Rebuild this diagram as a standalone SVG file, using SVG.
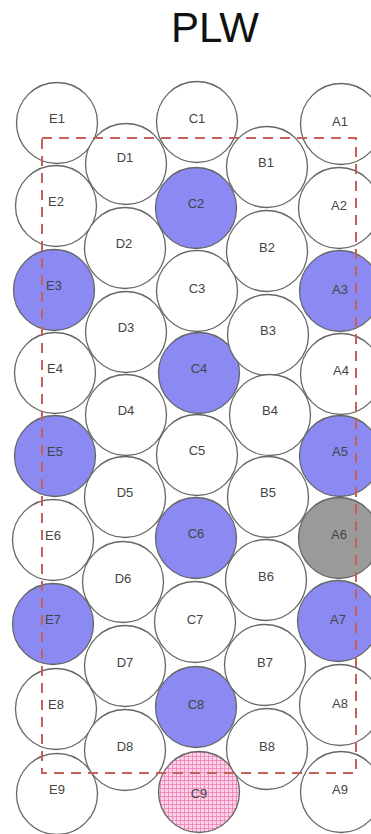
<svg xmlns="http://www.w3.org/2000/svg" width="371" height="834" viewBox="0 0 371 834">
<defs>
<pattern id="grid" width="4" height="4" patternUnits="userSpaceOnUse">
<rect width="4" height="4" fill="#fbd3e6"/>
<path d="M0 0.5H4M0.5 0V4" stroke="#f07fb8" stroke-width="0.8" fill="none"/>
</pattern>
</defs>
<style>
.c{fill:#ffffff;stroke:#666666;stroke-width:1.3}
.b{fill:#8a8af2}
.g{fill:#9a9a9a}
.p{fill:url(#grid)}
.t{font-family:"Liberation Sans",Arial,sans-serif;font-size:13px;fill:#444444;text-anchor:middle}
.title{font-family:"Liberation Sans",Arial,sans-serif;font-size:42px;fill:#111111;text-anchor:middle}
.frame{fill:none;stroke:#c8605a;stroke-width:2;stroke-dasharray:10 7}
</style>
<rect width="371" height="834" fill="#ffffff"/>
<text class="title" x="215" y="42">PLW</text>
<g id="E1"><circle class="c" cx="57" cy="123" r="40.5"/><text class="t" x="57" y="123">E1</text></g>
<g id="E2"><circle class="c" cx="56" cy="206" r="40.5"/><text class="t" x="56" y="206">E2</text></g>
<g id="E3"><circle class="c b" cx="54" cy="290" r="40.5"/><text class="t" x="54" y="290">E3</text></g>
<g id="E4"><circle class="c" cx="55" cy="373" r="40.5"/><text class="t" x="55" y="373">E4</text></g>
<g id="E5"><circle class="c b" cx="55" cy="456" r="40.5"/><text class="t" x="55" y="456">E5</text></g>
<g id="E6"><circle class="c" cx="53" cy="540" r="40.5"/><text class="t" x="53" y="540">E6</text></g>
<g id="E7"><circle class="c b" cx="53" cy="624" r="40.5"/><text class="t" x="53" y="624">E7</text></g>
<g id="E8"><circle class="c" cx="56" cy="709" r="40.5"/><text class="t" x="56" y="709">E8</text></g>
<g id="E9"><circle class="c" cx="57" cy="794" r="40.5"/><text class="t" x="57" y="794">E9</text></g>
<g id="D1"><circle class="c" cx="126" cy="164" r="40.5"/><text class="t" x="125" y="162">D1</text></g>
<g id="D2"><circle class="c" cx="125" cy="248" r="40.5"/><text class="t" x="124" y="248">D2</text></g>
<g id="D3"><circle class="c" cx="126" cy="332" r="40.5"/><text class="t" x="126" y="332">D3</text></g>
<g id="D4"><circle class="c" cx="126" cy="415" r="40.5"/><text class="t" x="126" y="415">D4</text></g>
<g id="D5"><circle class="c" cx="125" cy="497" r="40.5"/><text class="t" x="125" y="497">D5</text></g>
<g id="D6"><circle class="c" cx="123" cy="582" r="40.5"/><text class="t" x="123" y="583">D6</text></g>
<g id="D7"><circle class="c" cx="125" cy="666" r="40.5"/><text class="t" x="125" y="667">D7</text></g>
<g id="D8"><circle class="c" cx="125" cy="750" r="40.5"/><text class="t" x="125" y="751">D8</text></g>
<g id="C1"><circle class="c" cx="197" cy="122" r="40.5"/><text class="t" x="197" y="123">C1</text></g>
<g id="C2"><circle class="c b" cx="196" cy="208" r="40.5"/><text class="t" x="196" y="208">C2</text></g>
<g id="C3"><circle class="c" cx="197" cy="291" r="40.5"/><text class="t" x="197" y="293">C3</text></g>
<g id="C4"><circle class="c b" cx="199" cy="373" r="40.5"/><text class="t" x="199" y="373">C4</text></g>
<g id="C5"><circle class="c" cx="197" cy="455" r="40.5"/><text class="t" x="197" y="455">C5</text></g>
<g id="C6"><circle class="c b" cx="196" cy="538" r="40.5"/><text class="t" x="196" y="538">C6</text></g>
<g id="C7"><circle class="c" cx="195" cy="622" r="40.5"/><text class="t" x="195" y="624">C7</text></g>
<g id="C8"><circle class="c b" cx="196" cy="707" r="40.5"/><text class="t" x="196" y="709">C8</text></g>
<g id="C9"><circle class="c p" cx="199" cy="792" r="40.5"/><text class="t" x="199" y="798">C9</text></g>
<g id="B1"><circle class="c" cx="267" cy="167" r="40.5"/><text class="t" x="266" y="167">B1</text></g>
<g id="B2"><circle class="c" cx="267" cy="251" r="40.5"/><text class="t" x="267" y="252">B2</text></g>
<g id="B3"><circle class="c" cx="268" cy="335" r="40.5"/><text class="t" x="268" y="335">B3</text></g>
<g id="B4"><circle class="c" cx="270" cy="415" r="40.5"/><text class="t" x="270" y="415">B4</text></g>
<g id="B5"><circle class="c" cx="268" cy="497" r="40.5"/><text class="t" x="268" y="497">B5</text></g>
<g id="B6"><circle class="c" cx="266" cy="580" r="40.5"/><text class="t" x="266" y="581">B6</text></g>
<g id="B7"><circle class="c" cx="265" cy="665" r="40.5"/><text class="t" x="265" y="667">B7</text></g>
<g id="B8"><circle class="c" cx="267" cy="749" r="40.5"/><text class="t" x="267" y="751">B8</text></g>
<g id="A1"><circle class="c" cx="341" cy="124" r="40.5"/><text class="t" x="340" y="126">A1</text></g>
<g id="A2"><circle class="c" cx="339" cy="208" r="40.5"/><text class="t" x="339" y="210">A2</text></g>
<g id="A3"><circle class="c b" cx="340" cy="291" r="40.5"/><text class="t" x="340" y="294">A3</text></g>
<g id="A4"><circle class="c" cx="341" cy="374" r="40.5"/><text class="t" x="341" y="375">A4</text></g>
<g id="A5"><circle class="c b" cx="340" cy="456" r="40.5"/><text class="t" x="340" y="456">A5</text></g>
<g id="A6"><circle class="c g" cx="339" cy="538" r="40.5"/><text class="t" x="339" y="539">A6</text></g>
<g id="A7"><circle class="c b" cx="338" cy="621" r="40.5"/><text class="t" x="338" y="624">A7</text></g>
<g id="A8"><circle class="c" cx="340" cy="705" r="40.5"/><text class="t" x="340" y="708">A8</text></g>
<g id="A9"><circle class="c" cx="341" cy="792" r="40.5"/><text class="t" x="340" y="794">A9</text></g>
<g id="connectors">
<rect class="frame" x="42" y="138" width="314" height="635"/>
</g>
</svg>
